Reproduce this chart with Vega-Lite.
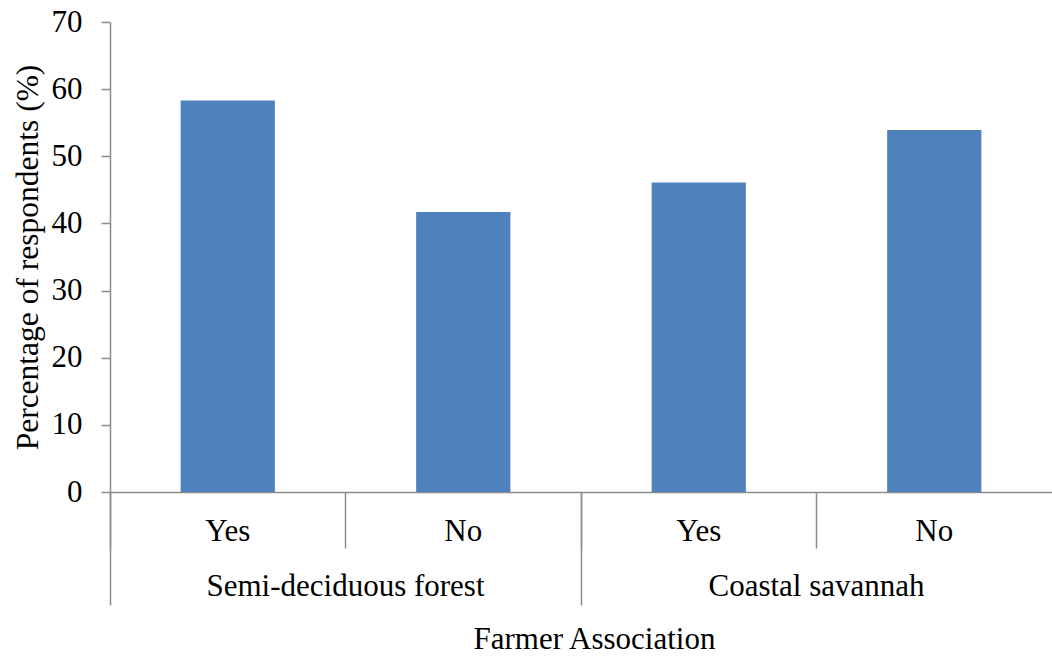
{
  "$schema": "https://vega.github.io/schema/vega-lite/v6.json",
  "autosize": {"type": "none"},
  "padding": {"left": 110, "top": 22, "right": 0, "bottom": 164},
  "width": 942,
  "height": 470,
  "background": "white",
  "config": {
    "view": {"stroke": null},
    "font": "Liberation Serif",
    "axis": {
      "labelFont": "Liberation Serif",
      "titleFont": "Liberation Serif",
      "labelFontSize": 31,
      "titleFontSize": 31,
      "labelColor": "black",
      "titleColor": "black",
      "titleFontWeight": "normal",
      "domainColor": "#8c8c8c",
      "tickColor": "#8c8c8c",
      "domainWidth": 1.5,
      "tickWidth": 1.5,
      "labelLimit": 0,
      "grid": false
    }
  },
  "data": {
    "values": [
      {"group": "Semi-deciduous forest", "answer": "Yes", "key": "Semi-deciduous forest|Yes", "percent": 58.3},
      {"group": "Semi-deciduous forest", "answer": "No", "key": "Semi-deciduous forest|No", "percent": 41.7},
      {"group": "Coastal savannah", "answer": "Yes", "key": "Coastal savannah|Yes", "percent": 46.1},
      {"group": "Coastal savannah", "answer": "No", "key": "Coastal savannah|No", "percent": 53.9}
    ]
  },
  "layer": [
    {
      "mark": {"type": "bar", "color": "#4F81BD", "width": {"band": 0.4}},
      "encoding": {
        "x": {
          "field": "key",
          "type": "nominal",
          "sort": null,
          "scale": {"type": "band", "paddingInner": 0, "paddingOuter": 0},
          "axis": {
            "orient": "bottom",
            "title": null,
            "labelExpr": "split(datum.value, '|')[1]",
            "labelAngle": 0,
            "labelBaseline": "alphabetic",
            "bandPosition": 0,
            "ticks": true,
            "tickSize": 56,
            "labelPadding": -8,
            "domain": true
          }
        },
        "y": {
          "field": "percent",
          "type": "quantitative",
          "scale": {"domain": [0, 70], "nice": false},
          "axis": {
            "values": [0, 10, 20, 30, 40, 50, 60, 70],
            "tickSize": 9,
            "labelPadding": 19,
            "title": "Percentage of respondents (%)",
            "titleFontSize": 31.5,
            "titleAngle": -90,
            "titleAlign": "center",
            "titleBaseline": "alphabetic",
            "titleX": -73,
            "titleY": 235
          }
        }
      }
    },
    {
      "mark": {"type": "text", "opacity": 0},
      "encoding": {
        "x": {
          "field": "group",
          "type": "nominal",
          "sort": null,
          "scale": {"type": "band", "paddingInner": 0, "paddingOuter": 0},
          "axis": {
            "orient": "bottom",
            "title": "Farmer Association",
            "labelAngle": 0,
            "labelBaseline": "alphabetic",
            "bandPosition": 0,
            "ticks": true,
            "tickColor": "#8c8c8c",
            "tickSize": 113,
            "labelPadding": -10,
            "domain": false,
            "titleBaseline": "alphabetic",
            "titleY": 156,
            "titleX": 484
          }
        },
        "text": {"value": ""}
      }
    }
  ],
  "resolve": {"scale": {"x": "independent"}, "axis": {"x": "independent"}}
}
